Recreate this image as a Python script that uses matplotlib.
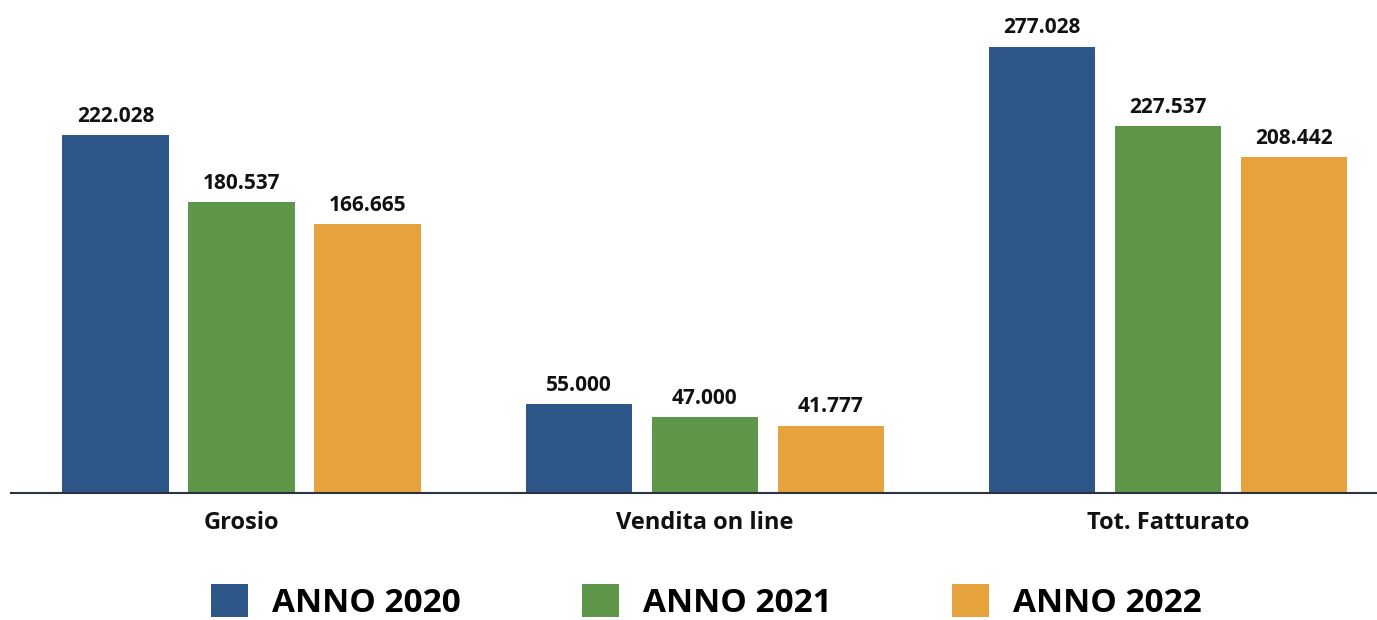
import numpy as np
import matplotlib.pyplot as plt

plt.rcParams['font.family'] = ['Open Sans', 'DejaVu Sans']
plt.rcParams['font.weight'] = 'bold'

# dati
categorie = ['Grosio', 'Vendita on line', 'Tot. Fatturato']
anni = ['ANNO 2020', 'ANNO 2021', 'ANNO 2022']
valori_2020 = [222.028, 55.000, 277.028]
valori_2021 = [180.537, 47.000, 227.537]
valori_2022 = [166.665, 41.777, 208.442]
colori = ['#2E5789', '#5E964A', '#E6A23D']

serie = [valori_2020, valori_2021, valori_2022]

fig = plt.figure(figsize=(13.77, 6.2), dpi=100)
ax = fig.add_axes([11 / 1377, 127 / 620, 1 - 11 / 1377, 1 - 127 / 620])

x = np.arange(len(categorie))
larghezza = 0.23
passo = 0.272

handles = []
for i, (vals, col, nome) in enumerate(zip(serie, colori, anni)):
    b = ax.bar(x + (i - 1) * passo, vals, larghezza, color=col, label=nome)
    handles.append(b)
    for xi, v in zip(x + (i - 1) * passo, vals):
        ax.annotate(f'{v:.3f}', (xi, v), xytext=(0, 6), textcoords='offset points',
                    ha='center', va='bottom', fontsize=15, fontweight='bold',
                    color='#111111')

ax.set_xlim(-0.498, 2.451)
ax.set_ylim(0, 306)
ax.set_xticks(x)
ax.set_xticklabels(categorie, fontsize=17, fontweight='bold', color='#111111')
ax.tick_params(axis='x', length=0, pad=13)
ax.set_yticks([])
for s in ['top', 'right', 'left']:
    ax.spines[s].set_visible(False)
ax.spines['bottom'].set_color('#2b3240')
ax.spines['bottom'].set_linewidth(1.5)

fig.legend(handles=handles, labels=anni, loc='center', bbox_to_anchor=(0.513, 0.029),
           ncol=3, frameon=False, handlelength=1.11, handleheight=1.11,
           handletextpad=0.72, columnspacing=3.63, borderpad=0,
           prop={'weight': 'bold', 'size': 24})

fig.savefig('out.png', dpi=100)
